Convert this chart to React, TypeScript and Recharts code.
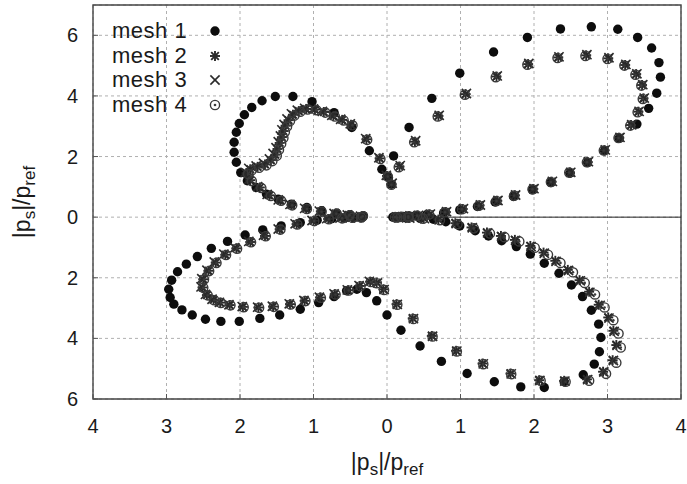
import React from 'react';
import { ScatterChart, Scatter, XAxis, YAxis, CartesianGrid, ReferenceArea, ReferenceLine, Legend, Label } from 'recharts';

// ---------- data ----------
const xTicks = [-4, -3, -2, -1, 0, 1, 2, 3, 4];
const yTicks = [-6, -4, -2, 0, 2, 4, 6];
const seriesNames = ['mesh 1', 'mesh 2', 'mesh 3', 'mesh 4'];

const mesh1: number[][] = [
  [0.09, 2.02], [0.30, 2.96], [0.61, 3.92], [0.99, 4.75], [1.45, 5.45], [1.91, 5.93], [2.36, 6.21], [2.78, 6.28],
  [3.14, 6.20], [3.41, 5.93], [3.60, 5.58], [3.70, 5.10], [3.72, 4.62], [3.67, 4.09], [3.56, 3.59], [3.40, 3.07],
  [3.16, 2.60], [2.96, 2.19], [2.73, 1.80], [2.49, 1.45], [2.23, 1.14], [1.98, 0.90], [1.72, 0.68], [1.47, 0.50],
  [1.23, 0.35], [0.99, 0.24], [0.77, 0.14], [0.54, 0.08], [0.40, 0.05], [0.31, 0.03], [0.22, 0.02], [0.13, 0.01], [0.08, 0.0],
  [0.12, -0.01], [0.25, -0.02], [0.45, -0.04], [0.63, -0.07], [0.80, -0.15], [0.99, -0.29], [1.20, -0.45], [1.38, -0.62],
  [1.56, -0.78], [1.76, -0.97], [1.95, -1.22], [2.14, -1.52], [2.34, -1.85], [2.51, -2.24], [2.66, -2.62], [2.78, -3.07],
  [2.88, -3.53], [2.91, -3.97], [2.89, -4.44], [2.82, -4.85], [2.67, -5.20], [2.41, -5.43], [2.14, -5.62], [1.82, -5.60],
  [1.46, -5.43], [1.09, -5.16], [0.74, -4.76], [0.45, -4.25], [0.19, -3.73], [0.0, -3.23], [-0.14, -2.76], [-0.28, -2.49],
  [-0.41, -2.38], [-0.55, -2.43],
  [-0.72, -2.62], [-0.93, -2.82], [-1.18, -3.04], [-1.46, -3.23], [-1.73, -3.34], [-2.01, -3.44], [-2.26, -3.44], [-2.47, -3.37],
  [-2.65, -3.23], [-2.79, -3.06], [-2.90, -2.87], [-2.95, -2.65], [-2.97, -2.38], [-2.93, -2.08], [-2.85, -1.80], [-2.73, -1.55],
  [-2.58, -1.30], [-2.39, -1.03], [-2.17, -0.80], [-1.93, -0.59], [-1.69, -0.42], [-1.44, -0.29], [-1.18, -0.18], [-0.95, -0.10],
  [-0.75, -0.05], [-0.58, -0.03], [-0.45, -0.02], [-0.35, -0.01],
  [-0.32, 0.04], [-0.50, 0.08], [-0.68, 0.13], [-0.89, 0.21], [-1.09, 0.32], [-1.30, 0.43], [-1.48, 0.59], [-1.64, 0.76],
  [-1.78, 0.98], [-1.90, 1.20], [-1.99, 1.47], [-2.05, 1.81], [-2.08, 2.14], [-2.08, 2.47], [-2.05, 2.80], [-2.01, 3.09],
  [-1.94, 3.38], [-1.84, 3.62], [-1.70, 3.84], [-1.52, 3.98], [-1.28, 3.98], [-1.02, 3.81], [-0.72, 3.45], [-0.48, 2.96],
  [-0.24, 2.19], [-0.07, 1.58], [0.02, 1.31], [0.06, 1.09],
];

const mesh2: number[][] = [
  [0.06, 1.09], [0.17, 1.67], [0.38, 2.49], [0.70, 3.34], [1.07, 4.06], [1.49, 4.64], [1.92, 5.05], [2.33, 5.27],
  [2.71, 5.34], [3.01, 5.24], [3.24, 5.02], [3.39, 4.72], [3.47, 4.36], [3.49, 3.92], [3.42, 3.48], [3.32, 3.04],
  [3.16, 2.62], [2.96, 2.21], [2.73, 1.82], [2.49, 1.47], [2.24, 1.17], [1.99, 0.93], [1.74, 0.72], [1.50, 0.54],
  [1.26, 0.39], [1.03, 0.27], [0.80, 0.17], [0.58, 0.09], [0.42, 0.05], [0.30, 0.03], [0.20, 0.01], [0.12, 0.0],
  [0.15, -0.01], [0.30, -0.02], [0.50, -0.04], [0.70, -0.08], [0.93, -0.20], [1.15, -0.34], [1.36, -0.51], [1.55, -0.62],
  [1.74, -0.75], [1.95, -0.95], [2.13, -1.17], [2.29, -1.44], [2.46, -1.74], [2.62, -2.08], [2.75, -2.46], [2.88, -2.89],
  [3.01, -3.31], [3.08, -3.75], [3.12, -4.22], [3.07, -4.72], [2.94, -5.10], [2.72, -5.35], [2.41, -5.40], [2.07, -5.38],
  [1.68, -5.16], [1.30, -4.83], [0.94, -4.41], [0.61, -3.92], [0.35, -3.34], [0.13, -2.87], [-0.05, -2.38], [-0.14, -2.16],
  [-0.23, -2.13], [-0.37, -2.27], [-0.53, -2.41],
  [-0.71, -2.54], [-0.91, -2.65], [-1.12, -2.76], [-1.32, -2.87], [-1.55, -2.95], [-1.75, -2.98], [-1.96, -2.96], [-2.14, -2.90],
  [-2.27, -2.82], [-2.36, -2.73], [-2.45, -2.57], [-2.51, -2.32], [-2.50, -2.05], [-2.43, -1.77], [-2.33, -1.50], [-2.20, -1.24],
  [-2.05, -1.03], [-1.86, -0.82], [-1.66, -0.62], [-1.46, -0.40], [-1.23, -0.23], [-1.00, -0.12], [-0.80, -0.06], [-0.62, -0.03],
  [-0.48, -0.02], [-0.36, -0.01],
  [-0.34, 0.03], [-0.52, 0.07], [-0.70, 0.12], [-0.90, 0.19], [-1.10, 0.28], [-1.30, 0.40], [-1.45, 0.55], [-1.60, 0.72],
  [-1.73, 0.98], [-1.86, 1.22], [-1.91, 1.45], [-1.86, 1.58], [-1.76, 1.66], [-1.66, 1.74], [-1.58, 1.88], [-1.52, 2.06],
  [-1.49, 2.25], [-1.46, 2.45], [-1.43, 2.64], [-1.41, 2.84], [-1.38, 3.02], [-1.34, 3.20], [-1.28, 3.38], [-1.20, 3.50],
  [-1.10, 3.57], [-0.98, 3.55], [-0.86, 3.47], [-0.73, 3.34], [-0.61, 3.21], [-0.49, 3.05], [-0.28, 2.57], [-0.10, 1.94], [0.0, 1.36],
];

const mesh3: number[][] = [
  [0.07, 1.12], [0.18, 1.70], [0.39, 2.52], [0.71, 3.36], [1.08, 4.08], [1.50, 4.66], [1.93, 5.07], [2.34, 5.29],
  [2.72, 5.36], [3.02, 5.26], [3.25, 5.04], [3.40, 4.73], [3.48, 4.37], [3.50, 3.93], [3.43, 3.49], [3.33, 3.05],
  [3.17, 2.63], [2.97, 2.22], [2.74, 1.83], [2.50, 1.48], [2.25, 1.18], [2.00, 0.94], [1.75, 0.73], [1.51, 0.55],
  [1.27, 0.40], [1.04, 0.28], [0.81, 0.18], [0.59, 0.10], [0.43, 0.06], [0.31, 0.04], [0.21, 0.02], [0.13, 0.01],
  [0.16, -0.02], [0.31, -0.03], [0.51, -0.05], [0.71, -0.09], [0.94, -0.21], [1.16, -0.35], [1.37, -0.52], [1.56, -0.64],
  [1.75, -0.77], [1.96, -0.97], [2.14, -1.19], [2.30, -1.46], [2.47, -1.76], [2.63, -2.10], [2.76, -2.48], [2.90, -2.91],
  [3.02, -3.33], [3.09, -3.77], [3.13, -4.23], [3.08, -4.73], [2.95, -5.11], [2.73, -5.36], [2.42, -5.41], [2.08, -5.39],
  [1.69, -5.17], [1.31, -4.84], [0.95, -4.42], [0.62, -3.93], [0.36, -3.35], [0.14, -2.88], [-0.04, -2.39], [-0.13, -2.17],
  [-0.24, -2.12], [-0.38, -2.26], [-0.54, -2.40],
  [-0.72, -2.53], [-0.92, -2.64], [-1.13, -2.75], [-1.33, -2.86], [-1.56, -2.94], [-1.76, -2.97], [-1.97, -2.95], [-2.15, -2.89],
  [-2.28, -2.81], [-2.38, -2.71], [-2.47, -2.55], [-2.53, -2.30], [-2.52, -2.03], [-2.45, -1.75], [-2.35, -1.48], [-2.22, -1.22],
  [-2.07, -1.01], [-1.88, -0.80], [-1.68, -0.60], [-1.48, -0.39], [-1.25, -0.22], [-1.02, -0.11], [-0.82, -0.05], [-0.64, -0.03],
  [-0.50, -0.02], [-0.38, -0.01],
  [-0.36, 0.03], [-0.54, 0.07], [-0.72, 0.12], [-0.92, 0.20], [-1.12, 0.29], [-1.32, 0.42], [-1.48, 0.57], [-1.63, 0.75],
  [-1.76, 1.01], [-1.88, 1.25], [-1.93, 1.48], [-1.88, 1.61], [-1.78, 1.69], [-1.68, 1.78], [-1.60, 1.92], [-1.55, 2.10],
  [-1.51, 2.29], [-1.48, 2.49], [-1.45, 2.68], [-1.43, 2.88], [-1.40, 3.06], [-1.36, 3.24], [-1.30, 3.41], [-1.22, 3.53],
  [-1.12, 3.59], [-1.00, 3.57], [-0.88, 3.49], [-0.75, 3.36], [-0.63, 3.23], [-0.50, 3.08], [-0.29, 2.59], [-0.11, 1.96], [-0.01, 1.38],
];

const mesh4: number[][] = [
  [0.06, 1.07], [0.16, 1.65], [0.37, 2.47], [0.69, 3.32], [1.06, 4.04], [1.48, 4.62], [1.91, 5.03], [2.32, 5.25],
  [2.70, 5.32], [3.00, 5.22], [3.23, 5.00], [3.38, 4.70], [3.46, 4.34], [3.48, 3.90], [3.41, 3.46], [3.31, 3.02],
  [3.15, 2.61], [2.95, 2.20], [2.72, 1.81], [2.48, 1.47], [2.23, 1.16], [1.98, 0.92], [1.73, 0.71], [1.49, 0.53],
  [1.25, 0.38], [1.02, 0.26], [0.79, 0.16], [0.57, 0.09], [0.41, 0.05], [0.29, 0.03], [0.19, 0.01], [0.11, 0.0],
  [0.14, -0.01], [0.29, -0.02], [0.49, -0.05], [0.72, -0.10], [0.96, -0.23], [1.18, -0.37], [1.40, -0.54], [1.60, -0.66],
  [1.80, -0.80], [2.01, -1.01], [2.19, -1.24], [2.36, -1.51], [2.53, -1.82], [2.69, -2.17], [2.83, -2.55], [2.96, -2.98],
  [3.08, -3.40], [3.15, -3.84], [3.18, -4.30], [3.12, -4.80], [2.98, -5.17], [2.75, -5.40], [2.43, -5.43], [2.09, -5.40],
  [1.69, -5.18], [1.31, -4.85], [0.95, -4.43], [0.62, -3.94], [0.36, -3.36], [0.14, -2.89], [-0.04, -2.40], [-0.14, -2.18],
  [-0.22, -2.14], [-0.36, -2.28], [-0.52, -2.42],
  [-0.70, -2.55], [-0.90, -2.66], [-1.11, -2.77], [-1.31, -2.88], [-1.54, -2.96], [-1.74, -2.99], [-1.95, -2.97], [-2.13, -2.91],
  [-2.26, -2.83], [-2.35, -2.74], [-2.44, -2.58], [-2.50, -2.33], [-2.49, -2.06], [-2.42, -1.78], [-2.32, -1.51], [-2.19, -1.25],
  [-2.04, -1.04], [-1.85, -0.83], [-1.65, -0.63], [-1.45, -0.41], [-1.22, -0.24], [-0.99, -0.13], [-0.79, -0.07], [-0.61, -0.04],
  [-0.47, -0.02], [-0.35, -0.01],
  [-0.33, 0.03], [-0.51, 0.06], [-0.69, 0.11], [-0.89, 0.18], [-1.09, 0.27], [-1.29, 0.39], [-1.44, 0.54], [-1.58, 0.70],
  [-1.71, 0.96], [-1.84, 1.19], [-1.89, 1.42], [-1.84, 1.55], [-1.74, 1.63], [-1.64, 1.71], [-1.56, 1.85], [-1.50, 2.03],
  [-1.47, 2.22], [-1.44, 2.42], [-1.41, 2.61], [-1.39, 2.81], [-1.36, 2.99], [-1.32, 3.17], [-1.26, 3.35], [-1.18, 3.48],
  [-1.08, 3.55], [-0.96, 3.53], [-0.84, 3.45], [-0.71, 3.32], [-0.59, 3.19], [-0.47, 3.03], [-0.27, 2.55], [-0.09, 1.92], [0.01, 1.34],
];

// ---------- helpers ----------
const toXY = (arr: number[][]) => arr.map(([x, y]) => ({ x, y }));
const FONT = '"Liberation Sans", Arial, Helvetica, sans-serif';
const INK = '#1a1a1a';

const DotMark = ({ cx, cy }: any) => <circle cx={cx} cy={cy} r={4.7} fill="#0d0d0d" />;
const StarMark = ({ cx, cy }: any) => {
  const s = 5, d = 3.8;
  return (
    <g stroke="#2a2a2a" strokeWidth={1.9}>
      <line x1={cx - s} y1={cy} x2={cx + s} y2={cy} />
      <line x1={cx} y1={cy - s} x2={cx} y2={cy + s} />
      <line x1={cx - d} y1={cy - d} x2={cx + d} y2={cy + d} />
      <line x1={cx - d} y1={cy + d} x2={cx + d} y2={cy - d} />
    </g>
  );
};
const CrossMark = ({ cx, cy }: any) => {
  const d = 4.6;
  return (
    <g stroke="#2a2a2a" strokeWidth={1.6}>
      <line x1={cx - d} y1={cy - d} x2={cx + d} y2={cy + d} />
      <line x1={cx - d} y1={cy + d} x2={cx + d} y2={cy - d} />
    </g>
  );
};
const RingMark = ({ cx, cy }: any) => (
  <g>
    <circle cx={cx} cy={cy} r={4.6} fill="none" stroke="#3a3a3a" strokeWidth={1.4} />
    <circle cx={cx} cy={cy} r={1.3} fill="#3a3a3a" />
  </g>
);
const marks = [DotMark, StarMark, CrossMark, RingMark];

const LegendBox = () => (
  <div style={{ fontFamily: FONT, fontSize: 22, letterSpacing: 0.5, color: INK }}>
    {seriesNames.map((n, i) => {
      const M = marks[i];
      return (
        <div key={n} style={{ display: 'flex', alignItems: 'center', height: 24.5 }}>
          <span style={{ width: 93, lineHeight: '24.5px', whiteSpace: 'nowrap' }}>{n}</span>
          <svg width={20} height={20} style={{ display: 'block' }}>
            <M cx={10} cy={10} />
          </svg>
        </div>
      );
    })}
  </div>
);

const XLabel = ({ viewBox }: any) => {
  const cx = viewBox.x + viewBox.width / 2;
  const y = viewBox.y + 71;
  return (
    <text x={cx} y={y} textAnchor="middle" fontFamily={FONT} fontSize={23} fill={INK}>
      <tspan>|p</tspan>
      <tspan dy={5} fontSize={17}>s</tspan>
      <tspan dy={-5}>|/p</tspan>
      <tspan dy={5} fontSize={17}>ref</tspan>
    </text>
  );
};

const YLabel = ({ viewBox }: any) => {
  const x = 30;
  const cy = viewBox.y + viewBox.height / 2;
  return (
    <text x={x} y={cy} textAnchor="middle" fontFamily={FONT} fontSize={23} fill={INK} transform={`rotate(-90, ${x}, ${cy})`}>
      <tspan>|p</tspan>
      <tspan dy={5} fontSize={17}>s</tspan>
      <tspan dy={-5}>|/p</tspan>
      <tspan dy={5} fontSize={17}>ref</tspan>
    </text>
  );
};

const absFmt = (v: number) => String(Math.abs(v));
const tickStyle = { fontFamily: FONT, fontSize: 20, fill: INK };

export default function App() {
  return (
    <div style={{ position: 'absolute', left: 0, top: 0 }}>
      <ScatterChart width={687} height={484} margin={{ top: 5, right: 6, bottom: 0, left: 0 }}>
        <CartesianGrid stroke="#b0b0b0" strokeDasharray="3 3" />
        <XAxis
          xAxisId={0}
          type="number"
          dataKey="x"
          domain={[-4, 4]}
          ticks={xTicks}
          tickFormatter={absFmt}
          height={85}
          axisLine={false}
          tickLine={{ stroke: '#555' }}
          tickSize={-5}
          tickMargin={25}
          tick={tickStyle}
          interval={0}
        >
          <Label content={<XLabel />} />
        </XAxis>
        <XAxis
          xAxisId="top"
          orientation="top"
          type="number"
          domain={[-4, 4]}
          ticks={xTicks}
          height={0}
          axisLine={false}
          tick={false}
          tickLine={{ stroke: '#555' }}
          tickSize={-5}
        />
        <YAxis
          yAxisId={0}
          type="number"
          dataKey="y"
          domain={[-6, 7]}
          ticks={yTicks}
          tickFormatter={absFmt}
          width={93}
          axisLine={false}
          tickLine={{ stroke: '#555' }}
          tickSize={-5}
          tickMargin={20}
          tick={tickStyle}
          interval={0}
        >
          <Label content={<YLabel />} />
        </YAxis>
        <YAxis
          yAxisId="right"
          orientation="right"
          type="number"
          domain={[-6, 7]}
          ticks={yTicks}
          width={0}
          axisLine={false}
          tick={false}
          tickLine={{ stroke: '#555' }}
          tickSize={-5}
        />
        <ReferenceArea x1={-4} x2={4} y1={-6} y2={7} fill="none" stroke="#444" strokeWidth={1.4} fillOpacity={0} />
        <ReferenceLine segment={[{ x: 0, y: 0 }, { x: 4, y: 0 }]} stroke="#222" strokeWidth={1} />
        <Legend
          layout="vertical"
          align="center"
          verticalAlign="middle"
          content={<LegendBox />}
          wrapperStyle={{ left: 112, top: 19, width: 130, height: 100 }}
        />
        <Scatter name={seriesNames[0]} data={toXY(mesh1)} shape={<DotMark />} isAnimationActive={false} />
        <Scatter name={seriesNames[1]} data={toXY(mesh2)} shape={<StarMark />} isAnimationActive={false} />
        <Scatter name={seriesNames[2]} data={toXY(mesh3)} shape={<CrossMark />} isAnimationActive={false} />
        <Scatter name={seriesNames[3]} data={toXY(mesh4)} shape={<RingMark />} isAnimationActive={false} />
      </ScatterChart>
    </div>
  );
}
